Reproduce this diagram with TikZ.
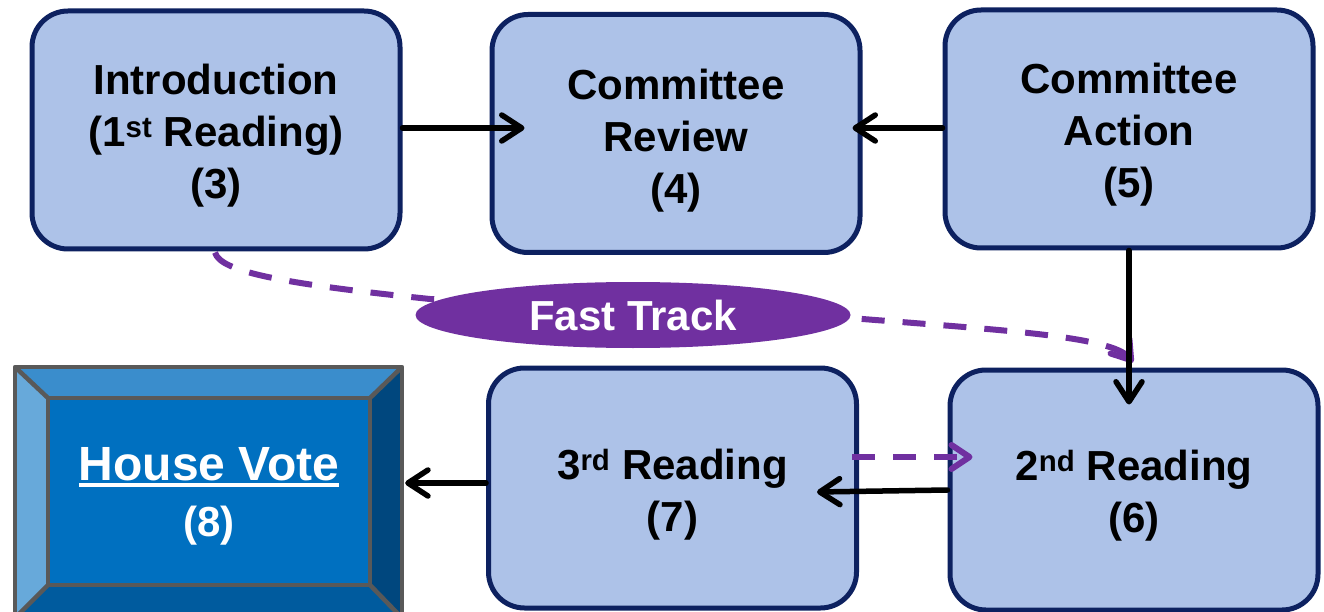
\documentclass[tikz,border=0pt]{standalone}
\usepackage{fontspec}
\setmainfont{Liberation Sans}
\usetikzlibrary{arrows.meta,shapes.geometric,calc}

\definecolor{boxfill}{HTML}{ADC2E8}
\definecolor{boxline}{HTML}{0D2160}
\definecolor{fastpurple}{HTML}{7030A0}
\definecolor{bevtop}{HTML}{3A8DCC}
\definecolor{bevleft}{HTML}{67A9DA}
\definecolor{bevright}{HTML}{00477E}
\definecolor{bevbottom}{HTML}{005B9E}
\definecolor{bevface}{HTML}{0070C0}
\definecolor{bevedge}{HTML}{595959}

% thick underline for the button label
\newcommand{\thickunder}[1]{\setbox0\hbox{#1}\rlap{\rule[-7pt]{\wd0}{4pt}}\box0}

\tikzset{
  stage/.style={draw=boxline, fill=boxfill, line width=5, rounded corners=36,
    minimum width=368, minimum height=238, inner sep=0},
  stagetext/.style={align=center, inner sep=0, yshift=-6pt,
    font=\bfseries\fontsize{42}{52}\selectfont},
  flow/.style={draw=black, line width=5.5, line cap=round,
    -{Straight Barb[length=20pt,width=26pt,round]}},
  quick/.style={draw=fastpurple, line width=6, dash pattern=on 23pt off 18pt,
    -{Straight Barb[length=18pt,width=24pt,round]}},
  bevel/.style={draw=bevedge, line width=4.5, line join=round}
}

\begin{document}
\begin{tikzpicture}[x=1pt,y=-1pt]
  \clip (0,0) rectangle (1324,612);
  \fill[white] (0,0) rectangle (1324,612);

  % legislative stages
  \node[stage] (intro)  at (216,130)   {};
  \node[stage] (review) at (676,133.5) {};
  \node[stage] (action) at (1129,129)  {};
  \node[stage, minimum height=240] (third)  at (672.5,488) {};
  \node[stage, minimum height=240] (second) at (1134,490)  {};
  \node[stagetext] (introtext)  at (intro)  {Introduction\\(1\textsuperscript{st} Reading)\\(3)};
  \node[stagetext] (reviewtext) at ([yshift=-1pt]review) {Committee\\Review\\(4)};
  \node[stagetext] (actiontext) at (action) {Committee\\Action\\(5)};
  \node[stagetext] (thirdtext)  at ([yshift=-1pt]third)  {3\textsuperscript{rd} Reading\\(7)};
  \node[stagetext] (secondtext) at (second) {2\textsuperscript{nd} Reading\\(6)};

  % bevelled button for the final vote
  \fill[bevface]   (48,398) rectangle (370,585);
  \fill[bevtop]    (15,367) -- (402,367) -- (370,398) -- (48,398) -- cycle;
  \fill[bevleft]   (15,367) -- (48,398) -- (48,585) -- (15,618) -- cycle;
  \fill[bevright]  (402,367) -- (402,618) -- (370,585) -- (370,398) -- cycle;
  \fill[bevbottom] (15,618) -- (48,585) -- (370,585) -- (402,618) -- cycle;
  \draw[bevel] (15,367) rectangle (402,618);
  \draw[bevel] (48,398) rectangle (370,585);
  \draw[bevel] (15,367) -- (48,398) (402,367) -- (370,398)
               (15,618) -- (48,585) (402,618) -- (370,585);
  \node[minimum width=387, minimum height=251, inner sep=0] (house) at (208.5,492.5) {};
  \node[align=center, text=white, inner sep=0, font=\bfseries\fontsize{48}{56}\selectfont]
    (housetext) at (209,496) {\thickunder{House Vote}\\{\fontsize{42}{52}\selectfont(8)}};

  % fast-track route, passing behind its label
  \draw[quick] ($(intro.south)+(-1,1)$) .. controls (220,272) and (285,284) .. (430,299)
    -- (850,318) .. controls (1000,330) and (1112,336) .. ($(second.north)+(-1,-5)$);
  \node[ellipse, fill=fastpurple, minimum width=435, minimum height=66, inner sep=0,
    text=white, font=\bfseries\fontsize{42}{52}\selectfont] (fast) at (633,315) {Fast Track};

  % regular flow
  \draw[flow] (intro.east |- 0,128) -- ($(review.west |- 0,128)+(35,0)$);
  \draw[flow] (action.west |- 0,128) -- ($(review.east |- 0,128)+(-10,0)$);
  \draw[flow] (action.south) -- ($(action.south |- second.north)+(0,37)$);
  \draw[flow] (second.west) -- ($(third.east)+(-42,4)$);
  \draw[flow] (third.west |- 0,483) -- ($(house.east |- 0,483)+(3,0)$);
  \draw[quick] ($(third.east |- 0,457)+(-7,0)$) -- ($(second.west |- 0,457)+(25,0)$);
\end{tikzpicture}
\end{document}
